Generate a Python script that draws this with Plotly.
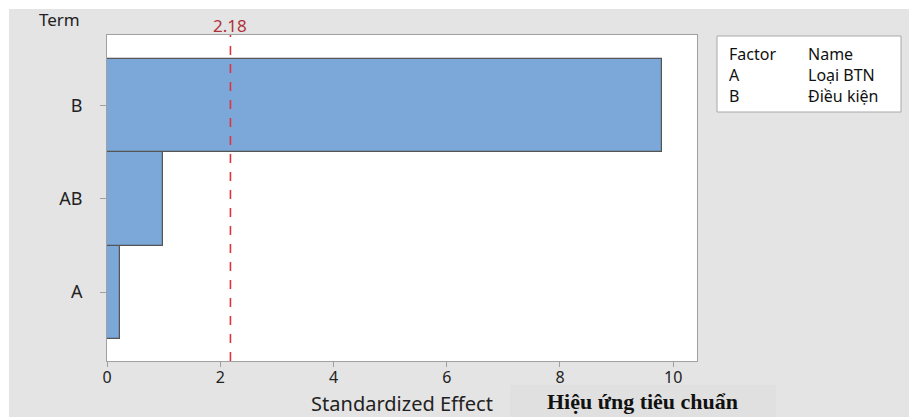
import plotly.graph_objects as go

# Pareto chart of standardized effects
terms = ["A", "AB", "B"]
effects = [0.23, 0.99, 9.80]
critical_value = 2.18
x_ticks = [0, 2, 4, 6, 8, 10]

factor_codes = ["A", "B"]
factor_names = ["Loại BTN", "Điều kiện"]

W, H = 909, 417
L, R, T, B = 107, 212, 35, 56
PW, PH = W - L - R, H - T - B


def px(x):
    return (x - L) / PW


def py(y):
    return (H - B - y) / PH


FONT = "Noto Sans"
BG = "#e4e4e4"
TXT = "#222222"

fig = go.Figure(
    go.Bar(
        y=terms,
        x=effects,
        orientation="h",
        width=1,
        marker=dict(color="#7ba7d9", line=dict(color="#555555", width=1.2)),
        hoverinfo="x+y",
    )
)

shapes = [
    # white frame strips at top and left
    dict(type="rect", xref="paper", yref="paper", x0=px(0), x1=px(W), y0=py(9), y1=py(-2),
         fillcolor="white", line=dict(width=0), layer="below"),
    dict(type="rect", xref="paper", yref="paper", x0=px(-2), x1=px(9), y0=py(H + 2), y1=py(0),
         fillcolor="white", line=dict(width=0), layer="below"),
    # critical value reference line
    dict(type="line", xref="x", yref="paper", x0=critical_value, x1=critical_value, y0=0, y1=1,
         line=dict(color="#e0343c", width=1.6, dash="dash")),
    # factor legend box
    dict(type="rect", xref="paper", yref="paper", x0=px(717), x1=px(901), y0=py(112), y1=py(36),
         fillcolor="white", line=dict(color="#a8a8a8", width=1)),
    # translated axis title box
    dict(type="rect", xref="paper", yref="paper", x0=px(510), x1=px(776), y0=py(H + 2), y1=py(385),
         fillcolor="#e0e0e0", line=dict(width=0), layer="below"),
]

legend_font = dict(family=FONT, size=16, color="#111111")
annotations = [
    dict(text="Term", xref="paper", yref="paper", x=px(59), y=py(19), showarrow=False,
         font=dict(family=FONT, size=17, color=TXT), xanchor="center", yanchor="middle"),
    dict(text=f"{critical_value:.2f}", xref="x", yref="paper", x=critical_value, y=py(26),
         showarrow=False, font=dict(family=FONT, size=17, color="#b0303a"),
         xanchor="center", yanchor="middle"),
    dict(text="<b>Hiệu ứng tiêu chuẩn</b>", xref="paper", yref="paper", x=px(642), y=py(401),
         showarrow=False, font=dict(family="Liberation Serif", size=22, color="#111111"),
         xanchor="center", yanchor="middle"),
    dict(text="<br>".join(["Factor"] + factor_codes), xref="paper", yref="paper",
         x=px(727), y=py(75), showarrow=False, font=legend_font,
         xanchor="left", yanchor="middle", align="left"),
    dict(text="<br>".join(["Name"] + factor_names), xref="paper", yref="paper",
         x=px(806), y=py(75), showarrow=False, font=legend_font,
         xanchor="left", yanchor="middle", align="left"),
]

fig.update_layout(
    width=W, height=H,
    margin=dict(l=L, r=R, t=T, b=B, pad=0, autoexpand=False),
    paper_bgcolor=BG,
    plot_bgcolor="white",
    showlegend=False,
    shapes=shapes,
    annotations=annotations,
    font=dict(family=FONT, size=17, color=TXT),
    bargap=0,
)

fig.update_xaxes(
    range=[0, 10.42],
    tickvals=x_ticks,
    ticks="outside", ticklen=5, tickcolor="#a0a0a0",
    ticklabelstandoff=-3,
    showgrid=False, zeroline=False, automargin=False,
    showline=True, linecolor="#a0a0a0", linewidth=1, mirror=True,
    tickfont=dict(family=FONT, size=16, color=TXT),
    title=dict(text="Standardized Effect", font=dict(family=FONT, size=20, color=TXT),
               standoff=10),
)
fig.update_yaxes(
    categoryorder="array", categoryarray=terms,
    range=[-0.74, 2.76],
    ticks="outside", ticklen=6, tickcolor="#a0a0a0",
    ticklabelstandoff=14, automargin=False,
    showgrid=False, zeroline=False,
    showline=True, linecolor="#a0a0a0", linewidth=1, mirror=True,
    tickfont=dict(family=FONT, size=18, color=TXT),
)

fig.write_html("out.html")
